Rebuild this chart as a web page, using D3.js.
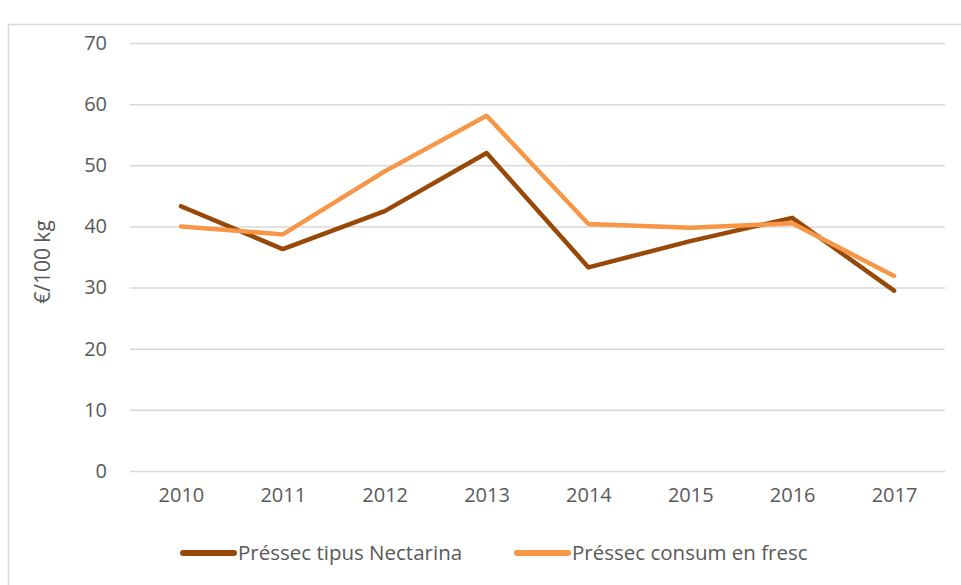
<!DOCTYPE html>
<html>
<head>
<meta charset="utf-8">
<script src="https://cdn.jsdelivr.net/npm/d3@7"></script>
<style>
  body { margin: 0; background: #fff; }
  svg text { font-family: "Open Sans", Lato, sans-serif; fill: #595959; }
</style>
</head>
<body>
<div id="chart"></div>
<script>
// years on the x axis
var years = ["2010", "2011", "2012", "2013", "2014", "2015", "2016", "2017"];
// €/100 kg
var nectarina = [43.3, 36.3, 42.5, 52.0, 33.3, 37.6, 41.4, 29.5];
var fresc = [40.0, 38.7, 49.0, 58.1, 40.4, 39.8, 40.5, 31.9];
var yTicks = [0, 10, 20, 30, 40, 50, 60, 70];
var seriesNames = ["Préssec tipus Nectarina", "Préssec consum en fresc"];
var seriesColors = ["#984807", "#F79646"];

var width = 961, height = 585;
var margin = {top: 43, right: 16, bottom: 114, left: 130};
var fontSize = "19.5px";

var svg = d3.select("#chart")
	.append("svg")
	.attr("width", width)
	.attr("height", height);

// chart frame
svg.append("rect")
	.attr("x", 8.5)
	.attr("y", 24.5)
	.attr("width", width)
	.attr("height", height)
	.attr("fill", "none")
	.attr("stroke", "#d9d9d9")
	.attr("stroke-width", 1.5);

var x = d3.scalePoint()
	.domain(years)
	.range([margin.left, width - margin.right])
	.padding(0.5);

var y = d3.scaleLinear()
	.domain([0, 70])
	.range([height - margin.bottom, margin.top]);

// gridlines + y labels
var yAxis = svg.append("g")
	.attr("transform", "translate(" + margin.left + ",0)")
	.call(d3.axisLeft(y).tickValues(yTicks).tickSize(-(width - margin.right - margin.left)).tickPadding(23));
yAxis.select(".domain").remove();
yAxis.selectAll(".tick line").attr("stroke", "#d9d9d9").attr("stroke-width", 1.5);
yAxis.selectAll(".tick text").style("font-size", "20px").attr("fill", "#595959");

// x labels
var xAxis = svg.append("g")
	.attr("transform", "translate(0," + (height - margin.bottom) + ")")
	.call(d3.axisBottom(x).tickSize(0).tickPadding(17));
xAxis.select(".domain").remove();
xAxis.selectAll(".tick text").style("font-size", "20px").attr("fill", "#595959");

// y axis title
svg.append("text")
	.attr("transform", "translate(43," + ((y(0) + y(70)) / 2 + 5) + ") rotate(-90)")
	.attr("text-anchor", "middle")
	.attr("dy", "0.35em")
	.style("font-size", "21px")
	.text("€/100 kg");

var line = d3.line()
	.x(function(d, i) { return x(years[i]); })
	.y(function(d) { return y(d); });

[nectarina, fresc].forEach(function(s, k) {
	svg.append("path")
		.datum(s)
		.attr("fill", "none")
		.attr("stroke", seriesColors[k])
		.attr("stroke-width", 4.5)
		.attr("stroke-linejoin", "round")
		.attr("stroke-linecap", "round")
		.attr("d", line);
});

// legend
var legendX = [180, 514];
seriesNames.forEach(function(name, k) {
	var g = svg.append("g").attr("transform", "translate(" + legendX[k] + ",553)");
	g.append("line")
		.attr("x1", 3).attr("x2", 54)
		.attr("stroke", seriesColors[k])
		.attr("stroke-width", 6)
		.attr("stroke-linecap", "round");
	g.append("text")
		.attr("x", 58)
		.attr("dy", "0.35em")
		.style("font-size", "20.5px")
		.text(name);
});
</script>
</body>
</html>
